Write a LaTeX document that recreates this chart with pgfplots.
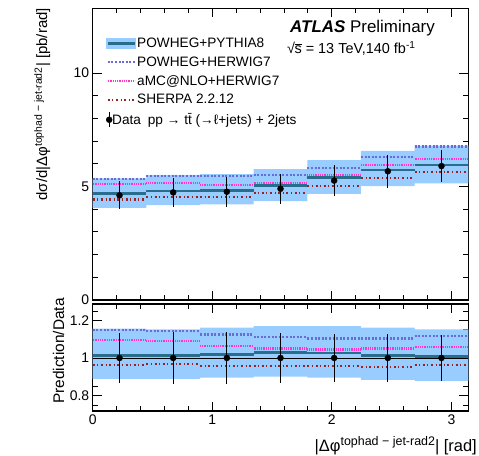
\documentclass[border=0pt]{standalone}
\usepackage{fontspec}
\setmainfont{Liberation Sans}
\usepackage{pgfplots}
\pgfplotsset{compat=1.18}
\usepgfplotslibrary{fillbetween}
\definecolor{bandblue}{RGB}{153,204,255}
\definecolor{pyline}{RGB}{40,110,140}
\definecolor{hwblue}{RGB}{106,106,216}
\definecolor{amcpink}{RGB}{255,51,204}
\definecolor{sherpared}{RGB}{153,34,34}
\pgfplotsset{
  atlas/.style={
    scale only axis, width=375.6bp,
    xmin=0, xmax=3.14159,
    axis line style={line width=1.2bp},
    tick style={black, line width=0.9bp},
    major tick length=9bp, minor tick length=5bp,
    tick align=inside, xtick pos=both, ytick pos=both,
    xtick={0,1,2,3}, minor x tick num=4,
    /pgf/number format/assume math mode=true,
    tick label style={font=\fontsize{14}{16}\selectfont},
  },
  pyl/.style={pyline, line width=2.6bp, jump mark left},
  hwl/.style={hwblue, line width=2.4bp, dash pattern=on 2bp off 1.6bp, jump mark left},
  amcl/.style={amcpink, line width=2.2bp, dash pattern=on 0.9bp off 0.9bp, jump mark left},
  shl/.style={sherpared, line width=2.2bp, dash pattern=on 2bp off 2.6bp on 1bp off 2.6bp, jump mark left},
}
\begin{document}
\begin{tikzpicture}
% ---------------- top panel
\begin{axis}[atlas, at={(92.7bp,156bp)}, anchor=south west, height=291.7bp,
  ymin=0, ymax=12.85, ytick={0,5,10}, minor y tick num=4, xticklabels={},
  legend style={draw=none, fill=none, at={(axis description cs:0.027,0.91)}, anchor=north west,
    font=\fontsize{13.7}{15}\selectfont, row sep=5.2bp, nodes={inner sep=1.2bp}},
  legend cell align=left,
  legend image code/.code={\draw[#1] (0bp,0bp) -- (27bp,0bp);},
]
\addplot[name path=hi, draw=none, const plot mark left, forget plot] coordinates {
 (0,5.36) (0.448799,5.51) (0.897598,5.54) (1.346397,5.76) (1.795196,6.16) (2.243995,6.57) (2.692794,6.80) (3.141593,6.80)};
\addplot[name path=lo, draw=none, const plot mark left, forget plot] coordinates {
 (0,4.06) (0.448799,4.18) (0.897598,4.21) (1.346397,4.36) (1.795196,4.68) (2.243995,5.02) (2.692794,5.14) (3.141593,5.14)};
\addplot[bandblue, forget plot] fill between[of=hi and lo];
\addplot[pyl, legend image code/.code={\fill[bandblue] (0bp,-4bp) rectangle (27bp,4bp); \draw[pyline, line width=2.6bp] (0bp,0bp) -- (27bp,0bp);}] coordinates {
 (0,4.68) (0.448799,4.80) (0.897598,4.83) (1.346397,5.05) (1.795196,5.39) (2.243995,5.73) (2.692794,5.95) (3.141593,5.95)};
\addlegendentry{POWHEG+PYTHIA8}
\addplot[hwl] coordinates {
 (0,5.32) (0.448799,5.47) (0.897598,5.47) (1.346397,5.50) (1.795196,5.81) (2.243995,6.31) (2.692794,6.76) (3.141593,6.76)};
\addlegendentry{POWHEG+HERWIG7}
\addplot[amcl] coordinates {
 (0,5.10) (0.448799,5.17) (0.897598,5.07) (1.346397,5.14) (1.795196,5.51) (2.243995,5.94) (2.692794,6.21) (3.141593,6.21)};
\addlegendentry{aMC@NLO+HERWIG7}
\addplot[shl] coordinates {
 (0,4.43) (0.448799,4.55) (0.897598,4.55) (1.346397,4.70) (1.795196,5.02) (2.243995,5.39) (2.692794,5.64) (3.141593,5.64)};
\addlegendentry{SHERPA 2.2.12}
\addplot[black, only marks, mark=*, mark size=3bp,
  error bars/.cd, y dir=both, y explicit, error mark=none, error bar style={line width=1.3bp},
  /pgfplots/legend image code/.code={\draw[black, line width=1.3bp] (1.5bp,-7.5bp) -- (1.5bp,7.5bp); \fill[black] (1.5bp,0bp) circle (3bp);},
  ] table[x=x, y=y, y error=e] {
x y e
0.2244 4.61 0.62
0.6732 4.74 0.65
1.1220 4.77 0.66
1.5708 4.90 0.66
2.0196 5.26 0.68
2.4684 5.67 0.72
2.9172 5.90 0.72
};
\addlegendentry{\hspace*{-25bp}Data\enspace pp → t\={t} (→ℓ+jets) + 2jets}
\end{axis}
% ---------------- ratio panel
\begin{axis}[atlas, at={(92.7bp,45bp)}, anchor=south west, height=107bp,
  ymin=0.718, ymax=1.287, ytick={0.8,1,1.2},
  minor ytick={0.75,0.85,0.9,0.95,1.05,1.1,1.15,1.25},
]
\addplot[name path=rhi, draw=none, const plot mark left] coordinates {
 (0,1.156) (0.448799,1.152) (0.897598,1.161) (1.346397,1.170) (1.795196,1.170) (2.243995,1.161) (2.692794,1.152) (3.141593,1.152)};
\addplot[name path=rlo, draw=none, const plot mark left] coordinates {
 (0,0.889) (0.448799,0.889) (0.897598,0.896) (1.346397,0.901) (1.795196,0.896) (2.243995,0.883) (2.692794,0.878) (3.141593,0.878)};
\addplot[bandblue] fill between[of=rhi and rlo];
\addplot[pyl] coordinates {
 (0,1.012) (0.448799,1.012) (0.897598,1.018) (1.346397,1.030) (1.795196,1.027) (2.243995,1.012) (2.692794,1.009) (3.141593,1.009)};
\addplot[black, line width=0.8bp] coordinates {(0,1) (3.141593,1)};
\addplot[hwl] coordinates {
 (0,1.148) (0.448799,1.143) (0.897598,1.125) (1.346397,1.113) (1.795196,1.104) (2.243995,1.104) (2.692794,1.116) (3.141593,1.116)};
\addplot[amcl] coordinates {
 (0,1.095) (0.448799,1.090) (0.897598,1.063) (1.346397,1.050) (1.795196,1.045) (2.243995,1.050) (2.692794,1.057) (3.141593,1.057)};
\addplot[shl] coordinates {
 (0,0.962) (0.448799,0.968) (0.897598,0.959) (1.346397,0.959) (1.795196,0.959) (2.243995,0.952) (2.692794,0.962) (3.141593,0.962)};
\addplot[black, only marks, mark=*, mark size=3bp,
  error bars/.cd, y dir=both, y explicit, error mark=none, error bar style={line width=1.3bp},
  ] table[x=x, y=y, y error=e] {
x y e
0.2244 1 0.134
0.6732 1 0.137
1.1220 1 0.138
1.5708 1 0.135
2.0196 1 0.129
2.4684 1 0.127
2.9172 1 0.122
};
\end{axis}
% ---------------- texts
\node[anchor=base west, inner sep=0pt] at (290bp,423bp) {\fontsize{17}{20}\selectfont\textbf{\textit{ATLAS}} Preliminary};
\node[anchor=base west, inner sep=0pt] at (287bp,402.7bp) {\fontsize{14.5}{16}\selectfont √\kern-0.6pt$\overline{\mbox{s}}$ = 13 TeV,140 fb\textsuperscript{-1}};
\node[rotate=90, anchor=base east, inner sep=0pt] at (47bp,448bp) {\fontsize{15}{18}\selectfont dσ/d|Δφ\textsuperscript{tophad − jet-rad2}| [pb/rad]};
\node[rotate=90, anchor=base east, inner sep=0pt] at (64bp,158bp) {\fontsize{15.5}{18}\selectfont Prediction/Data};
\node[anchor=base east, inner sep=0pt] at (477bp,5bp) {\fontsize{16.5}{18}\selectfont |Δφ{\fontsize{12.5}{14}\selectfont\raisebox{0.45em}{tophad − jet-rad2}}| [rad]};
\pgfresetboundingbox
\path[use as bounding box] (0,0) rectangle (479bp,456bp);
\end{tikzpicture}
\end{document}
